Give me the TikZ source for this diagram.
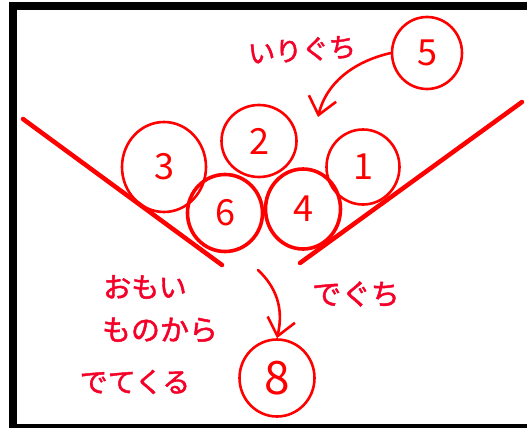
\documentclass[tikz,border=0pt]{standalone}
\usepackage{fontspec}
\newfontfamily\jpfont{Noto Sans CJK JP}
\newfontfamily\jpfontb[FakeBold=1.6]{Noto Sans CJK JP}
\usetikzlibrary{shapes.geometric,arrows.meta}
\definecolor{pen}{RGB}{255,0,0}
\definecolor{ink}{RGB}{245,0,40}
\tikzset{
  ball/.style={ellipse, draw=pen, line width=2.6pt, inner sep=0pt, text=pen,
    font=\jpfont\fontsize{36}{36}\selectfont},
  heavy/.style={ball, line width=3.6pt},
  wall/.style={draw=pen, line width=4.5pt, line cap=round},
  arr/.style={draw=pen, line width=2.6pt, line cap=round,
    -{Straight Barb[length=17pt,width=28pt,line width=2.6pt]}},
  note/.style={text=ink, inner sep=0pt, align=center},
}
\begin{document}
\begin{tikzpicture}[x=1pt,y=-1pt]
\useasboundingbox (0,0) rectangle (527,428);
\fill[white] (0,0) rectangle (527,428);
% frame
\fill[black] (9,2.5) rectangle (527,10);
\fill[black] (9,2.5) rectangle (17,428);
\fill[black] (9,424) rectangle (527,428);
% funnel walls
\coordinate (wl1) at (23,119);
\coordinate (wl2) at (222,265);
\coordinate (wr1) at (522,102);
\coordinate (wr2) at (300,263);
\draw[wall] (wl1) -- (wl2);
\draw[wall] (wr1) -- (wr2);
% balls
\node[ball, minimum width=84pt, minimum height=90pt] (n3) at (164,167) {3};
\node[ball, minimum width=75pt, minimum height=72pt] (n2) at (259,141) {2};
\node[ball, minimum width=73pt, minimum height=75pt] (n1) at (363,167) {1};
\node[heavy, minimum width=75pt, minimum height=77pt] (n6) at (225,213) {6};
\node[heavy, minimum width=75pt, minimum height=80pt] (n4) at (303,209) {4};
\node[ball, minimum width=70pt, minimum height=72pt] (n5) at (427,53) {5};
\node[ball, minimum width=75pt, minimum height=77pt, font=\jpfont\fontsize{46}{46}\selectfont] (n8) at (277,378) {8};
% arrows
\coordinate (inTip) at (318,117);
\draw[arr] (n5.west) .. controls (352,62) and (326,84) .. (inTip);
\coordinate (outStart) at (258,270);
\draw[arr] (outStart) .. controls (276,287) and (284,308) .. (n8.north);
% labels
\node[note, font=\jpfontb\fontsize{27}{27}\selectfont, rotate=4] (lin) at (302,50) {いりぐち};
\node[note, font=\jpfontb\fontsize{29}{29}\selectfont] (lout) at (356,294) {でぐち};
\node[note, font=\jpfontb\fontsize{28}{28}\selectfont] (l1) at (145,287) {おもい};
\node[note, font=\jpfontb\fontsize{29}{29}\selectfont] (l2) at (160,330) {ものから};
\node[note, font=\jpfontb\fontsize{28}{28}\selectfont] (l3) at (135,382) {でてくる};
\end{tikzpicture}
\end{document}
